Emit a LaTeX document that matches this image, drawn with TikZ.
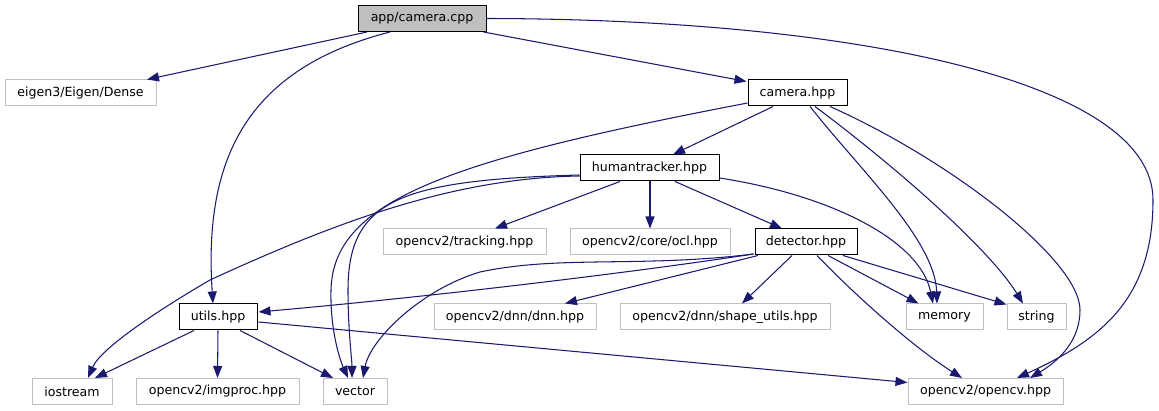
\documentclass[tikz,border=0pt]{standalone}
\usepackage{fontspec}
\setmainfont{DejaVu Sans}
\usetikzlibrary{arrows.meta,calc}
\definecolor{edgec}{HTML}{191970}
\definecolor{gbord}{HTML}{BFBFBF}
\begin{document}
\begin{tikzpicture}[x=1pt,y=-1pt,
  box/.style={draw=gbord, line width=1pt, minimum height=26pt, inner sep=0pt,
    font=\fontsize{12.6}{15}\selectfont, fill=white},
  dbox/.style={box, draw=black, line width=1pt},
  rootbox/.style={box, draw=black, line width=1pt, fill=gbord},
  dep/.style={draw=edgec, line width=1.05pt, -{Triangle[length=12pt,width=9pt]}}]
\fill[white] (0,0) rectangle (1159,411);
\useasboundingbox (0,0) rectangle (1159,411);

\node[rootbox, minimum width=128pt] (cpp) at (422,18.5) {app/camera.cpp};
\node[box, minimum width=151pt] (eigen) at (80.5,93) {eigen3/Eigen/Dense};
\node[dbox, minimum width=99pt] (camhpp) at (797.5,93) {camera.hpp};
\node[dbox, minimum width=139pt] (human) at (649.5,168) {humantracker.hpp};
\node[box, minimum width=163pt] (tracking) at (464.5,242) {opencv2/tracking.hpp};
\node[box, minimum width=160pt] (ocl) at (650,242) {opencv2/core/ocl.hpp};
\node[dbox, minimum width=102pt] (detector) at (806,242) {detector.hpp};
\node[dbox, minimum width=78pt] (utils) at (218,317) {utils.hpp};
\node[box, minimum width=162pt] (dnn) at (515,317) {opencv2/dnn/dnn.hpp};
\node[box, minimum width=210pt] (shape) at (725,317) {opencv2/dnn/shape\_utils.hpp};
\node[box, minimum width=77pt] (memory) at (944.5,317) {memory};
\node[box, minimum width=59pt] (string) at (1036.5,317) {string};
\node[box, minimum width=80pt] (iostream) at (72,391.5) {iostream};
\node[box, minimum width=163pt] (imgproc) at (217.5,391.5) {opencv2/imgproc.hpp};
\node[box, minimum width=64pt] (vector) at (355,391.5) {vector};
\node[box, minimum width=155pt] (opencv) at (985.5,391.5) {opencv2/opencv.hpp};

% from app/camera.cpp
\draw[dep] ($(cpp.south)+(-55,0)$) -- ($(eigen.north)+(66.5,0)$);
\draw[dep] ($(cpp.south)+(-32,0)$) .. controls (250,68) and (203,155) .. ($(utils.north)+(-5,0)$);
\draw[dep] ($(cpp.south east)+(-3,0)$) -- ($(camhpp.north west)+(-1,2)$);
\draw[dep] (cpp.east) .. controls (850,19) and (1153,80) .. (1153,200)
  .. controls (1153,300) and (1100,340) .. ($(opencv.north)+(31.5,0)$);

% from camera.hpp
\draw[dep] ($(camhpp.south)+(-24.5,0)$) -- ($(human.north)+(23.5,0)$);
\draw[dep] ($(camhpp.west)+(0,10)$) .. controls (450,160) and (333,200) .. (331,290)
  .. controls (330,330) and (340,360) .. ($(vector.north)+(-7,0)$);
\draw[dep] ($(camhpp.south)+(12.5,0)$) .. controls (860,170) and (935,240) .. ($(memory.north)+(-7.5,0)$);
\draw[dep] ($(camhpp.south)+(17.5,0)$) .. controls (900,170) and (990,250) .. ($(string.north)+(-13.5,0)$);
\draw[dep] ($(camhpp.south)+(32.5,0)$) .. controls (950,160) and (1080,260) .. (1080,310)
  .. controls (1080,340) and (1060,360) .. ($(opencv.north)+(44.5,0)$);

% from humantracker.hpp
\draw[dep] ($(human.west)+(0,7)$) .. controls (400,180) and (348,200) .. (348,290)
  .. controls (348,330) and (352,360) .. ($(vector.north)+(-3,0)$);
\draw[dep] ($(human.west)+(0,8)$) .. controls (450,178) and (330,225) .. (210,280)
  .. controls (150,315) and (100,350) .. ($(iostream.north)+(16,0)$);
\draw[dep] ($(human.south)+(-29.5,0)$) -- ($(tracking.north)+(30.5,0)$);
\draw[dep] ($(human.south)+(0.5,0)$) -- (ocl.north);
\draw[dep] ($(human.south)+(25.5,0)$) -- ($(detector.north)+(-24,0)$);
\draw[dep] ($(human.east)+(0,10)$) .. controls (830,195) and (920,240) .. ($(memory.north)+(-11.5,0)$);

% from detector.hpp
\draw[dep] ($(detector.west)+(-1,12)$) .. controls (650,270) and (450,295) .. ($(utils.east)+(1,-5)$);
\draw[dep] ($(detector.west)+(-1,12)$) .. controls (640,268) and (560,255) .. (480,272)
  .. controls (420,290) and (370,340) .. ($(vector.north)+(8,0)$);
\draw[dep] ($(detector.south)+(-48,0)$) -- ($(dnn.north)+(50,0)$);
\draw[dep] ($(detector.south)+(-14,0)$) -- ($(shape.north)+(17,0)$);
\draw[dep] ($(detector.south)+(11,0)$) .. controls (850,290) and (910,345) .. ($(opencv.north)+(-23.5,0)$);
\draw[dep] ($(detector.south)+(22,0)$) -- ($(memory.north)+(-26,0)$);
\draw[dep] ($(detector.south)+(37,0)$) -- ($(string.north west)+(0,1)$);

% from utils.hpp
\draw[dep] ($(utils.south)+(-24,0)$) -- ($(iostream.north)+(23,0)$);
\draw[dep] (utils.south) -- (imgproc.north);
\draw[dep] ($(utils.south)+(22,0)$) -- ($(vector.north)+(-22,0)$);
\draw[dep] ($(utils.east)+(1,5)$) -- ($(opencv.west)+(0,-9)$);
\end{tikzpicture}
\end{document}
